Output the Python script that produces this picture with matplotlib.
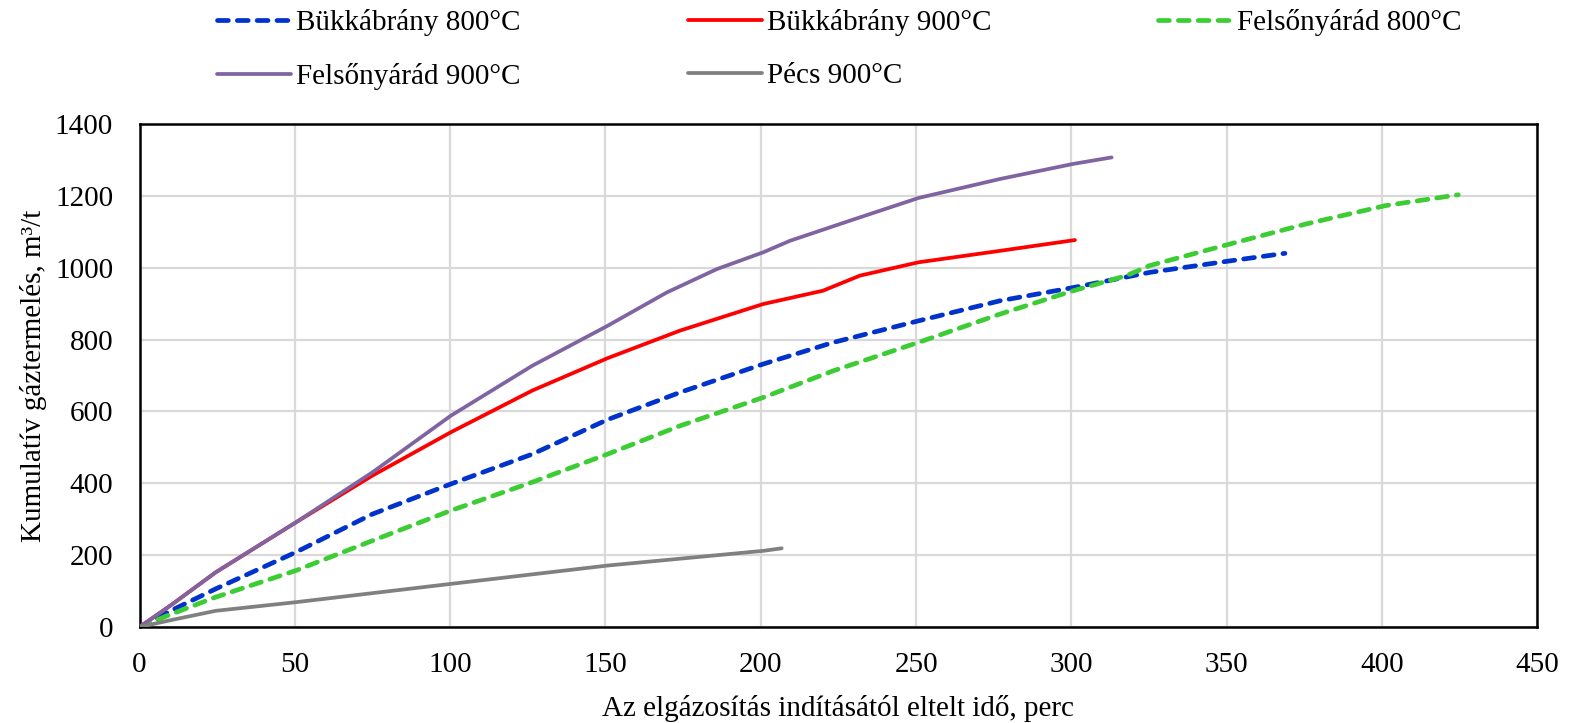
import matplotlib
matplotlib.use("Agg")
import matplotlib.pyplot as plt

plt.rcParams['font.family'] = ['Liberation Serif', 'DejaVu Serif']

# Data
bukk800_t = [0, 10, 24.5, 50.3, 74.9, 100.2, 126.4, 150.6, 174, 200.8, 223.3, 250.7, 277, 300.7, 325.2, 351, 368.7]
bukk800_v = [0, 45, 106, 208, 314, 398, 481, 577, 653, 732, 792, 852, 908, 945, 987, 1019, 1040]

bukk900_t = [0, 10, 24.5, 50.3, 74.9, 100.2, 126.4, 150.6, 174, 200.8, 220, 231.9, 250.7, 277, 301.1]
bukk900_v = [0, 60, 152, 291, 421, 542, 658, 748, 825, 899, 936, 978, 1015, 1047, 1077]

fels800_t = [0, 10, 24.5, 50.3, 74.9, 100.2, 126.4, 150.6, 174, 200.8, 223.3, 250.7, 277, 300.6, 317.7, 325.2, 351, 375.6, 401.2, 424.5]
fels800_v = [0, 35, 83, 157, 240, 324, 403, 481, 560, 639, 713, 792, 871, 936, 978, 1006, 1066, 1122, 1173, 1203]

fels900_t = [0, 10, 24.5, 50.3, 74.9, 100.2, 126.4, 150.6, 169.7, 185.8, 200.8, 209.4, 228.7, 250.7, 277, 300.6, 312.9]
fels900_v = [0, 60, 152, 291, 430, 588, 727, 838, 931, 996, 1043, 1075, 1131, 1194, 1247, 1289, 1307]

pecs900_t = [0, 10.6, 24.5, 50.3, 100.2, 150.6, 200.8, 206.7]
pecs900_v = [0, 20, 45, 69, 120, 171, 212, 219]

labels = ['Bükkábrány 800°C', 'Bükkábrány 900°C', 'Felsőnyárád 800°C',
          'Felsőnyárád 900°C', 'Pécs 900°C']
colors = ['#0033CC', '#FF0000', '#3CCC33', '#8064A2', '#808080']
x_ticks = [0, 50, 100, 150, 200, 250, 300, 350, 400, 450]
y_ticks = [0, 200, 400, 600, 800, 1000, 1200, 1400]

W, H = 1573, 723
fig = plt.figure(figsize=(W / 100, H / 100), dpi=100)
ax = fig.add_axes([139.5 / W, 1 - 627 / H, (1537.5 - 139.5) / W, (627 - 124) / H])

series = [(bukk800_t, bukk800_v), (bukk900_t, bukk900_v), (fels800_t, fels800_v),
          (fels900_t, fels900_v), (pecs900_t, pecs900_v)]
dashed = [True, False, True, False, False]
handles = []
for (t, v), lab, c, d in zip(series, labels, colors, dashed):
    if d:
        h, = ax.plot(t, v, color=c, lw=3.4, dashes=(2.3, 1.9),
                     dash_capstyle='round', label=lab, zorder=3)
    else:
        h, = ax.plot(t, v, color=c, lw=2.7, solid_capstyle='round', label=lab, zorder=3)
    handles.append(h)

ax.set_xlim(0, 450)
ax.set_ylim(0, 1400)
ax.set_xticks(x_ticks)
ax.set_yticks(y_ticks)
ax.set_xticklabels([str(x) for x in x_ticks])
ax.set_yticklabels([str(y) for y in y_ticks])
ax.tick_params(axis='x', length=0, labelsize=21, pad=18)
ax.tick_params(axis='y', length=0, labelsize=21, pad=19)
ax.grid(True, color='#D9D9D9', lw=1.6, zorder=0)
for s in ax.spines.values():
    s.set_linewidth(1.8)
    s.set_color('black')

ax.set_xlabel('Az elgázosítás indításától eltelt idő, perc', fontsize=21, labelpad=12)
ax.set_ylabel('Kumulatív gáztermelés, m³/t', fontsize=21, labelpad=6)

# legend: three columns, placed at the reference positions
cols = [[0, 3], [1, 4], [2]]
col_x = [217, 688, 1158]
for idx, x0 in zip(cols, col_x):
    lg = fig.legend([handles[i] for i in idx], [labels[i] for i in idx],
                    loc='upper left', bbox_to_anchor=(x0 / W, 1 - 9 / H),
                    frameon=False, fontsize=21, handlelength=2.55, handletextpad=0.15,
                    labelspacing=0.92, borderpad=0, borderaxespad=0)

fig.savefig('out.png', dpi=100)
